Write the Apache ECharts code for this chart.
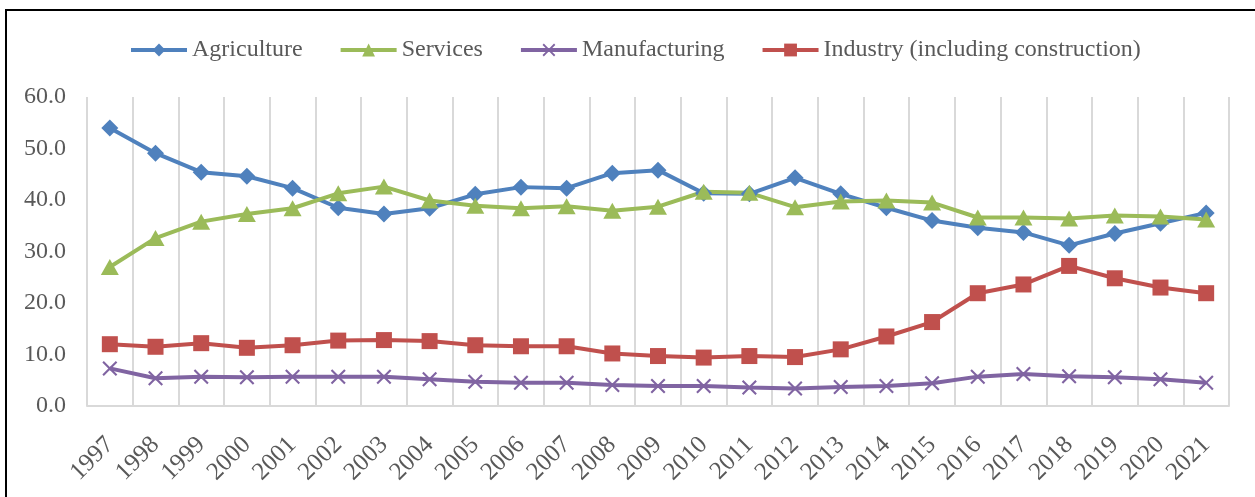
<!DOCTYPE html>
<html>
<head>
<meta charset="utf-8">
<script src="https://cdn.jsdelivr.net/npm/echarts@6/dist/echarts.min.js"></script>
<style>
  body { margin: 0; background: #fff; }
  #chart { width: 1255px; height: 497px; }
  /* the black frame: only top and left edges are visible */
  #frame {
    position: absolute; left: 5px; top: 9px; width: 1300px; height: 600px;
    border-top: 2px solid #000; border-left: 2px solid #000; pointer-events: none;
  }
</style>
</head>
<body>
<div id="chart"></div>
<div id="frame"></div>
<script>
var years = ['1997', '1998', '1999', '2000', '2001', '2002', '2003', '2004', '2005', '2006',
    '2007', '2008', '2009', '2010', '2011', '2012', '2013', '2014', '2015', '2016',
    '2017', '2018', '2019', '2020', '2021'];

var agriculture = [54.0, 49.1, 45.4, 44.6, 42.3, 38.5, 37.3, 38.4, 41.1, 42.5,
    42.3, 45.2, 45.8, 41.3, 41.2, 44.3, 41.2, 38.5, 36.0, 34.6,
    33.7, 31.2, 33.5, 35.5, 37.5];
var services = [27.0, 32.6, 35.8, 37.3, 38.4, 41.3, 42.6, 39.9, 38.9, 38.4,
    38.8, 37.9, 38.7, 41.6, 41.4, 38.6, 39.7, 39.9, 39.5, 36.6,
    36.6, 36.4, 37.0, 36.8, 36.2];
var manufacturing = [7.3, 5.4, 5.7, 5.6, 5.7, 5.7, 5.7, 5.2, 4.7, 4.5,
    4.5, 4.1, 3.9, 3.9, 3.6, 3.4, 3.7, 3.9, 4.4, 5.7,
    6.2, 5.8, 5.6, 5.2, 4.5];
var industry = [12.0, 11.5, 12.2, 11.3, 11.8, 12.7, 12.8, 12.6, 11.8, 11.6,
    11.6, 10.2, 9.7, 9.4, 9.7, 9.5, 11.0, 13.5, 16.3, 21.9,
    23.6, 27.2, 24.8, 23.0, 21.9];

var seriesNames = ['Agriculture', 'Services', 'Manufacturing', 'Industry (including construction)'];

var font = '"Liberation Serif", "Times New Roman", serif';
var grey = '#595959';
// thin X marker
var crossPath = 'path://M0,1L1,0L5,4L9,0L10,1L6,5L10,9L9,10L5,6L1,10L0,9L4,5Z';

function makeLine(name, data, color, symbol, size) {
    return {
        name: name,
        type: 'line',
        data: data,
        symbol: symbol,
        symbolSize: size,
        lineStyle: { color: color, width: 4 },
        itemStyle: { color: color },
        emphasis: { disabled: true }
    };
}

var chart = echarts.init(document.getElementById('chart'));
chart.setOption({
    animation: false,
    backgroundColor: '#fff',
    legend: {
        top: 33,
        left: 124,
        itemWidth: 56,
        itemHeight: 16,
        itemGap: 36,
        lineStyle: { width: 4 },
        textStyle: { fontFamily: font, fontSize: 24, color: grey },
        data: seriesNames
    },
    grid: { left: 87, right: 26, top: 97, bottom: 91 },
    xAxis: {
        type: 'category',
        data: years,
        boundaryGap: true,
        axisTick: { show: false },
        axisLine: { lineStyle: { color: '#d9d9d9', width: 2 } },
        splitLine: { show: true, lineStyle: { color: '#d9d9d9', width: 2 } },
        axisLabel: {
            interval: 0,
            rotate: 45,
            margin: 35,
            padding: [0, 0, 14, 0],
            fontFamily: font,
            fontSize: 25,
            color: grey
        }
    },
    yAxis: {
        type: 'value',
        min: 0,
        max: 60,
        interval: 10,
        axisLine: { show: false },
        axisTick: { show: false },
        splitLine: { show: false },
        axisLabel: {
            margin: 21,
            fontFamily: font,
            fontSize: 24,
            color: grey,
            formatter: function (v) { return v.toFixed(1); }
        }
    },
    series: [
        makeLine(seriesNames[0], agriculture, '#4f81bd', 'diamond', [17, 17]),
        makeLine(seriesNames[1], services, '#9bbb59', 'triangle', [18, 16]),
        makeLine(seriesNames[2], manufacturing, '#8064a2', crossPath, [15, 15]),
        makeLine(seriesNames[3], industry, '#c0504d', 'rect', [16, 16])
    ]
});
</script>
</body>
</html>
